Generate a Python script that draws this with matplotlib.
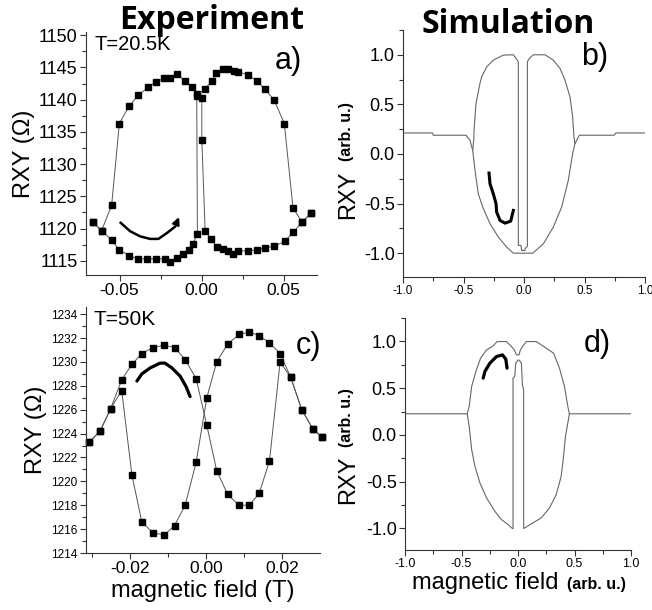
import numpy as np
import matplotlib
matplotlib.use("Agg")
import matplotlib.pyplot as plt
from matplotlib.ticker import MultipleLocator, FormatStrFormatter

plt.rcParams["font.family"] = ["Liberation Sans", "DejaVu Sans"]
plt.rcParams["axes.unicode_minus"] = False

# ---- panel a) experiment, T=20.5K ----
a_down_x = [0.0666, 0.0611, 0.0556, 0.0505, 0.0442, 0.0387, 0.0336, 0.0279, 0.0224, 0.0190,
            0.0163, 0.0127, 0.0093, 0.0056, 0.0021, 0.0001, 0.0001, -0.0029, -0.0060, -0.0101,
            -0.0151, -0.0192, -0.0229, -0.0277, -0.0328, -0.0385, -0.0442, -0.0501, -0.0548,
            -0.0609, -0.0663]
a_down_y = [1122.4, 1121.0, 1119.4, 1118.0, 1117.3, 1117.0, 1116.7, 1116.5, 1116.6, 1116.1,
            1116.5, 1116.9, 1117.2, 1118.4, 1119.7, 1133.8, 1140.3, 1140.9, 1142.0, 1142.9,
            1144.0, 1143.3, 1143.3, 1142.8, 1141.9, 1140.7, 1139.0, 1136.3, 1123.6,
            1119.7, 1121.0]
a_up_x = [-0.0663, -0.0609, -0.0548, -0.0501, -0.0442, -0.0389, -0.0334, -0.0277, -0.0223,
          -0.0192, -0.0151, -0.0111, -0.0080, -0.0054, -0.0026, -0.0030, 0.0021, 0.0062, 0.0088,
          0.0127, 0.0163, 0.0194, 0.0221, 0.0279, 0.0336, 0.0387, 0.0442, 0.0503, 0.0556,
          0.0611, 0.0666]
a_up_y = [1121.0, 1119.7, 1118.2, 1116.7, 1115.8, 1115.3, 1115.3, 1115.3, 1115.3,
          1114.8, 1115.5, 1116.0, 1116.7, 1117.6, 1119.2, 1140.6, 1141.7, 1142.9, 1144.2,
          1144.8, 1144.8, 1144.5, 1144.3, 1143.9, 1142.9, 1141.6, 1139.9, 1136.3, 1123.2,
          1121.0, 1122.4]
a_arrow_x = [-0.0493, -0.0436, -0.0375, -0.0314, -0.0263, -0.0212, -0.0162, -0.0131]
a_arrow_y = [1120.9, 1119.6, 1118.8, 1118.4, 1118.4, 1119.3, 1120.3, 1122.2]

# ---- panel c) experiment, T=50K ----
c_up_x = [-0.0308, -0.0280, -0.0252, -0.0223, -0.0196, -0.0170, -0.0141, -0.0111, -0.0084,
          -0.0056, -0.0027, 0.0001, 0.0027, 0.0056, 0.0086, 0.0113, 0.0139, 0.0166, 0.0194,
          0.0222, 0.0251, 0.0280, 0.0304]
c_up_y = [1223.3, 1224.2, 1226.1, 1227.6, 1220.5, 1216.6, 1215.7, 1215.5, 1216.3,
          1218.0, 1221.6, 1227.0, 1230.0, 1231.5, 1232.3, 1232.5, 1232.2, 1231.6, 1230.7,
          1228.7, 1226.0, 1224.4, 1223.7]
c_down_x = [0.0304, 0.0280, 0.0251, 0.0222, 0.0194, 0.0166, 0.0139, 0.0113, 0.0086, 0.0056,
            0.0027, 0.0001, -0.0027, -0.0056, -0.0084, -0.0111, -0.0141, -0.0170, -0.0196,
            -0.0223, -0.0252, -0.0280, -0.0308]
c_down_y = [1223.7, 1224.4, 1226.0, 1228.7, 1230.0, 1221.7, 1219.0, 1218.0, 1218.0, 1218.9,
            1220.9, 1224.7, 1228.6, 1230.2, 1231.2, 1231.4, 1231.2, 1230.7, 1229.8,
            1228.5, 1226.1, 1224.2, 1223.3]
c_trace_x = [-0.0183, -0.0170, -0.0148, -0.0122, -0.0109, -0.0091, -0.0069, -0.0053, -0.0043]
c_trace_y = [1228.4, 1229.0, 1229.5, 1229.9, 1229.9, 1229.5, 1228.8, 1227.9, 1227.1]

# ---- panel b) simulation ----
b_outer_x = [-1.0, -0.755, -0.75, -0.479, -0.446, -0.424, -0.405, -0.378, -0.341, -0.281,
             -0.212, -0.143, -0.088, 0.072, 0.16, 0.242, 0.311, 0.366, 0.402, 0.421, 0.457,
             0.744, 0.76, 1.0]
b_outer_y = [0.212, 0.212, 0.189, 0.189, 0.138, 0.037, -0.165, -0.40, -0.535, -0.703,
             -0.838, -0.939, -1.0, -1.0, -0.905, -0.737, -0.535, -0.266, 0.004, 0.105, 0.189,
             0.189, 0.212, 0.212]
b_inner_x = [-0.424, -0.415, -0.413, -0.397, -0.364, -0.35, -0.308, -0.254, -0.171, -0.088,
             -0.066, -0.047, -0.047, -0.025, -0.019, 0.008, 0.008, 0.028, 0.028, 0.044, 0.077,
             0.174, 0.242, 0.298, 0.339, 0.38, 0.402, 0.413, 0.421]
b_inner_y = [0.037, 0.15, 0.239, 0.509, 0.711, 0.778, 0.879, 0.946, 0.997, 1.0,
             0.964, 0.93, -0.922, -0.922, -0.973, -0.973, -0.956, -0.93, 0.93, 0.964, 1.0,
             1.0, 0.946, 0.862, 0.744, 0.576, 0.374, 0.172, 0.105]
b_trace_x = [-0.289, -0.281, -0.254, -0.231, -0.226, -0.198, -0.157, -0.110, -0.088]
b_trace_y = [-0.192, -0.30, -0.40, -0.501, -0.586, -0.67, -0.697, -0.677, -0.569]

# ---- panel d) simulation ----
d_left_x = [-1.0, -0.449, -0.432, -0.41, -0.381, -0.337, -0.278, -0.205, -0.146, -0.088,
            -0.05, -0.044, -0.044, -0.029, -0.02, 0.0]
d_left_y = [0.226, 0.226, 0.091, -0.158, -0.336, -0.513, -0.674, -0.816, -0.905, -0.958,
            -1.0, -1.0, 0.607, 0.625, 0.767, 0.80]
d_top_x = [-0.449, -0.432, -0.41, -0.373, -0.331, -0.278, -0.22, -0.185, -0.102, -0.058,
           -0.029, -0.014, 0.009, 0.021, 0.044, 0.074, 0.162, 0.25, 0.315, 0.367, 0.411,
           0.441, 0.455, 1.0]
d_top_y = [0.226, 0.304, 0.518, 0.678, 0.821, 0.909, 0.952, 0.998, 0.998, 0.945,
           0.902, 0.856, 0.856, 0.909, 0.952, 0.998, 0.998, 0.927, 0.874, 0.714, 0.518,
           0.304, 0.226, 0.226]
d_right_x = [0.455, 0.42, 0.403, 0.382, 0.338, 0.279, 0.206, 0.132, 0.059, 0.05, 0.05,
             0.039, 0.03, 0.009]
d_right_y = [0.226, -0.016, -0.23, -0.443, -0.638, -0.78, -0.887, -0.94, -0.994, -1.0, 0.482,
             0.536, 0.767, 0.80]
d_trace_x = [-0.308, -0.293, -0.249, -0.19, -0.137, -0.108, -0.097]
d_trace_y = [0.607, 0.678, 0.767, 0.838, 0.856, 0.81, 0.714]

W, H = 652, 610
fig = plt.figure(figsize=(W / 100, H / 100), dpi=100)


def box(l, t, r, b):
    return [l / W, 1 - b / H, (r - l) / W, (b - t) / H]


def style(ax, xmaj, xmin, ymaj, ymin, xfmt, yfmt, xfs, yfs):
    for s in ("top", "right"):
        ax.spines[s].set_visible(False)
    for s in ("left", "bottom"):
        ax.spines[s].set_color("#333333")
        ax.spines[s].set_linewidth(0.8)
    ax.xaxis.set_major_locator(MultipleLocator(xmaj))
    ax.xaxis.set_minor_locator(MultipleLocator(xmin))
    ax.yaxis.set_major_locator(MultipleLocator(ymaj))
    ax.yaxis.set_minor_locator(MultipleLocator(ymin))
    ax.xaxis.set_major_formatter(FormatStrFormatter(xfmt))
    ax.yaxis.set_major_formatter(FormatStrFormatter(yfmt))
    ax.tick_params(which="both", direction="out", color="#333333", width=0.8)
    ax.tick_params(which="major", length=4, pad=2)
    ax.tick_params(which="minor", length=3)
    ax.tick_params(axis="x", labelsize=xfs)
    ax.tick_params(axis="y", labelsize=yfs)


mk = dict(marker="s", color="#555555", lw=0.7, markersize=4.5,
          markerfacecolor="black", markeredgecolor="black", clip_on=False)
sim = dict(color="#666666", lw=0.8)

# a)
ax = fig.add_axes(box(86, 32, 317, 275))
ax.plot(a_down_x, a_down_y, **mk)
ax.plot(a_up_x, a_up_y, **mk)
ax.plot(a_arrow_x[:-1], a_arrow_y[:-1], color="black", lw=1.8)
ax.annotate("", xy=(a_arrow_x[-1], a_arrow_y[-1]), xytext=(a_arrow_x[-2], a_arrow_y[-2]),
            arrowprops=dict(arrowstyle="-|>", color="black", lw=1.8, mutation_scale=10))
ax.set_xlim(-0.0704, 0.0702)
ax.set_ylim(1112.8, 1150.5)
style(ax, 0.05, 0.025, 5, 2.5, "%.2f", "%d", 12.5, 13)
ax.set_ylabel("RXY (\u03a9)", fontsize=17, labelpad=3)
ax.text(0.035, 0.95, "T=20.5K", transform=ax.transAxes, fontsize=14.5, va="center")
ax.text(0.875, 0.88, "a)", transform=ax.transAxes, fontsize=22, ha="center", va="center")

# b)
ax = fig.add_axes(box(403, 30, 645, 277))
ax.plot(b_outer_x, b_outer_y, **sim)
ax.plot(b_inner_x, b_inner_y, **sim)
ax.plot(b_trace_x, b_trace_y, color="black", lw=2.2)
ax.set_xlim(-1, 1)
ax.set_ylim(-1.24, 1.25)
style(ax, 0.5, 0.25, 0.5, 0.25, "%.1f", "%.1f", 8.5, 13)
ax.text(0.79, 0.89, "b)", transform=ax.transAxes, fontsize=22, ha="center", va="center")

# c)
ax = fig.add_axes(box(86, 307, 320, 553))
ax.plot(c_up_x, c_up_y, **mk)
ax.plot(c_down_x, c_down_y, **mk)
ax.plot(c_trace_x, c_trace_y, color="black", lw=2.3, solid_capstyle="round")
ax.set_xlim(-0.0317, 0.0299)
ax.set_ylim(1214, 1234.6)
style(ax, 0.02, 0.01, 2, 1, "%.2f", "%d", 12.5, 8.5)
ax.set_ylabel("RXY (\u03a9)", fontsize=17, labelpad=3)
ax.set_xlabel("magnetic field (T)", fontsize=17, labelpad=3)
ax.text(0.03, 0.95, "T=50K", transform=ax.transAxes, fontsize=15, va="center")
ax.text(0.95, 0.84, "c)", transform=ax.transAxes, fontsize=22, ha="center", va="center")

# d)
ax = fig.add_axes(box(405, 318, 631, 550))
ax.plot(d_left_x, d_left_y, **sim)
ax.plot(d_top_x, d_top_y, **sim)
ax.plot(d_right_x, d_right_y, **sim)
ax.plot(d_trace_x, d_trace_y, color="black", lw=2.3, solid_capstyle="round")
ax.set_xlim(-1, 1)
ax.set_ylim(-1.23, 1.25)
style(ax, 0.5, 0.25, 0.5, 0.25, "%.1f", "%.1f", 9, 13)
ax.text(0.85, 0.89, "d)", transform=ax.transAxes, fontsize=22, ha="center", va="center")

# y labels of the simulation panels: big RXY + small bold unit
for yc_rxy, yc_unit in ((195, 132), (480, 418)):
    fig.text(348 / W, 1 - yc_rxy / H, "RXY", rotation=90, fontsize=17,
             ha="center", va="center")
    fig.text(346 / W, 1 - yc_unit / H, "(arb. u.)", rotation=90, fontsize=11.5,
             fontweight="bold", ha="center", va="center")

# x label of d)
fig.text(485 / W, 1 - 583 / H, "magnetic field", fontsize=17, ha="center", va="center")
fig.text(596 / W, 1 - 585 / H, "(arb. u.)", fontsize=11.5, fontweight="bold",
         ha="center", va="center")

# column titles
fig.text(212 / W, 1 - 29 / H, "Experiment", fontsize=23, fontweight="bold",
         family="Open Sans", ha="center", va="baseline")
fig.text(508 / W, 1 - 33 / H, "Simulation", fontsize=23, fontweight="bold",
         family="Open Sans", ha="center", va="baseline")

fig.savefig("out.png", dpi=100)
